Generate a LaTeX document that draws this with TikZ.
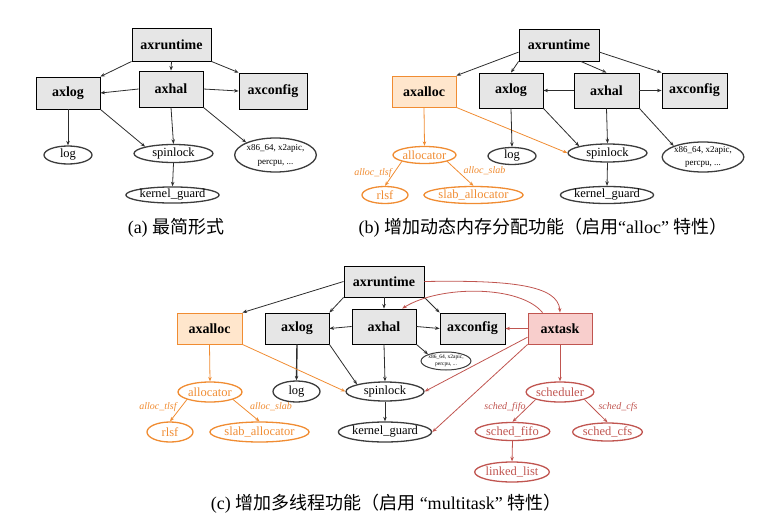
\documentclass[tikz,border=0pt]{standalone}
\usepackage{fontspec}
\setmainfont{Liberation Serif}
\newfontfamily\cjk{Noto Sans CJK SC}
\usetikzlibrary{shapes.geometric,arrows.meta,calc}
\definecolor{boxgray}{RGB}{230,230,230}
\definecolor{edgegray}{RGB}{45,45,45}
\definecolor{ellgray}{RGB}{60,60,60}
\definecolor{orng}{RGB}{240,140,50}
\definecolor{orngfill}{RGB}{255,230,204}
\definecolor{rd}{RGB}{192,85,80}
\definecolor{rdfill}{RGB}{248,206,204}
\begin{document}
\begin{tikzpicture}[x=1pt,y=-1pt,
 box/.style={draw=black,line width=0.9pt,fill=boxgray,font=\fontsize{14}{16}\selectfont\bfseries,inner sep=0pt,minimum width=64pt,minimum height=32pt},
 obox/.style={box,draw=orng,fill=orngfill},
 rbox/.style={box,draw=rd,fill=rdfill},
 ell/.style={ellipse,draw=ellgray,line width=1.3pt,inner sep=0pt,font=\fontsize{12.5}{14}\selectfont},
 oell/.style={ell,draw=orng,text=orng},
 rell/.style={ell,draw=rd,text=rd},
 arr/.style={-{Stealth[length=4.5pt,width=3.5pt]},draw=edgegray,line width=0.8pt},
 oarr/.style={arr,draw=orng},
 rarr/.style={arr,draw=rd},
 lab/.style={font=\fontsize{10}{12}\selectfont\itshape,inner sep=0pt},
 captext/.style={font=\fontsize{18}{20}\selectfont,inner sep=0pt}]
\useasboundingbox (0,0) rectangle (770,524);

% ---------------- panel (a)
\node[box,minimum width=79pt,minimum height=33pt] (a-rt) at (171.5,44.5) {axruntime};
\node[box,minimum height=32pt] (a-log) at (68,93) {axlog};
\node[box,minimum height=36pt] (a-hal) at (171,89) {axhal};
\node[box,minimum width=68pt,minimum height=36pt] (a-cfg) at (273,91) {axconfig};
\node[ell,minimum width=48pt,minimum height=18pt] (a-lg) at (68,155) {log};
\node[ell,minimum width=79pt,minimum height=18pt] (a-spin) at (173.5,153.5) {spinlock};
\node[ell,minimum width=79pt,minimum height=34pt,align=center,font=\fontsize{9}{14}\selectfont] (a-x86) at (275.5,155) {x86\_64, x2apic,\\percpu, ...};
\node[ell,minimum width=79pt,minimum height=16pt] (a-kg) at (172.5,195) {kernel\_guard};
\node[captext] (a-cap) at (176,228) {(a) {\cjk 最简形式}};

\draw[arr] (a-rt.south west) -- (a-log.north east);
\draw[arr] (a-rt.south) -- (a-hal.north);
\draw[arr] (a-rt.south east) -- (a-cfg.north west);
\draw[arr] (a-hal.west) -- (a-log.east);
\draw[arr] (a-hal.east) -- (a-cfg.west);
\draw[arr] (a-log.south) -- (a-lg.north);
\draw[arr] (a-log.south east) -- (a-spin.north west);
\draw[arr] (a-hal.south) -- (a-spin.north);
\draw[arr] (a-hal.south east) -- (a-x86.north west);
\draw[arr] (a-spin.south) -- (a-kg.north);

% ---------------- panel (b)
\node[box,minimum width=80pt,minimum height=32pt] (b-rt) at (559,45) {axruntime};
\node[obox,minimum height=31pt] (b-alloc) at (424,91.5) {axalloc};
\node[box,minimum height=35pt] (b-log) at (511,90.5) {axlog};
\node[box,minimum width=65pt,minimum height=35pt] (b-hal) at (606.5,90.5) {axhal};
\node[box,minimum width=65pt,minimum height=35pt] (b-cfg) at (694.5,90.5) {axconfig};
\node[oell,minimum width=63pt,minimum height=17pt] (b-allocator) at (424.5,155) {allocator};
\node[ell,minimum width=48pt,minimum height=17pt] (b-lg) at (512,156) {log};
\node[ell,minimum width=79pt,minimum height=18pt] (b-spin) at (607.5,153) {spinlock};
\node[ell,minimum width=78pt,minimum height=30pt,align=center,font=\fontsize{9}{13}\selectfont] (b-x86) at (703,157) {x86\_64, x2apic,\\percpu, ...};
\node[ell,minimum width=78pt,minimum height=17pt] (b-kg) at (607,195) {kernel\_guard};
\node[oell,minimum width=46pt,minimum height=17pt] (b-rlsf) at (385,195) {rlsf};
\node[oell,minimum width=83pt,minimum height=17pt] (b-slab) at (473.5,195) {slab\_allocator};
\node[lab,text=orng] (b-l1) at (373,173) {alloc\_tlsf};
\node[lab,text=orng] (b-l2) at (484.5,171) {alloc\_slab};
\node[captext] (b-cap) at (543,228) {(b) {\cjk 增加动态内存分配功能（启用}“alloc” {\cjk 特性）}};

\draw[arr] (b-rt.190) -- (b-alloc.north east);
\draw[arr] (b-rt.south west) -- (b-log.north);
\draw[arr] (b-rt.-37) -- (b-hal.north);
\draw[arr] (b-rt.-10) -- (b-cfg.north west);
\draw[arr] (b-hal.west) -- (b-log.east);
\draw[arr] (b-hal.east) -- (b-cfg.west);
\draw[oarr] (b-alloc.south) -- (b-allocator.north);
\draw[oarr] (b-alloc.south east) -- (b-spin.west);
\draw[arr] (b-log.south) -- (b-lg.north);
\draw[arr] (b-log.south east) -- (b-spin.north west);
\draw[arr] (b-hal.south) -- (b-spin.north);
\draw[arr] (b-hal.south east) -- (b-x86.north west);
\draw[arr] (b-spin.south) -- (b-kg.north);
\draw[oarr] (b-allocator.south west) -- (b-rlsf.north);
\draw[oarr] (b-allocator.south east) -- (b-slab.north);

% ---------------- panel (c)
\node[box,minimum width=80pt,minimum height=31pt] (c-rt) at (384,281.5) {axruntime};
\node[obox,minimum width=65pt,minimum height=31pt] (c-alloc) at (209.5,328.5) {axalloc};
\node[box,minimum height=31pt] (c-log) at (297,328.5) {axlog};
\node[box,minimum height=35pt] (c-hal) at (384,326.5) {axhal};
\node[box,minimum width=65pt,minimum height=31pt] (c-cfg) at (472.5,328.5) {axconfig};
\node[rbox,minimum height=31pt] (c-task) at (560,328.5) {axtask};
\node[oell,minimum width=64pt,minimum height=20pt] (c-allocator) at (210,392) {allocator};
\node[ell,minimum width=47pt,minimum height=21pt] (c-lg) at (296.5,391.5) {log};
\node[ell,minimum width=78pt,minimum height=19pt] (c-spin) at (385,391.5) {spinlock};
\node[ell,line width=1pt,minimum width=46pt,minimum height=18pt,align=center,font=\fontsize{5.5}{7.5}\selectfont] (c-x86) at (446,361) {x86\_64, x2apic,\\percpu, ...};
\node[ell,minimum width=78pt,minimum height=20pt] (c-kg) at (385,432) {kernel\_guard};
\node[oell,minimum width=46pt,minimum height=20pt] (c-rlsf) at (170,432) {rlsf};
\node[oell,minimum width=83pt,minimum height=20pt] (c-slab) at (259.5,432) {slab\_allocator};
\node[rell,minimum width=64pt,minimum height=20pt] (c-sched) at (560,392) {scheduler};
\node[rell,minimum width=61pt,minimum height=18pt] (c-fifo) at (512.5,431.5) {sched\_fifo};
\node[rell,minimum width=63pt,minimum height=18pt] (c-cfs) at (607.5,432) {sched\_cfs};
\node[rell,minimum width=62pt,minimum height=20pt] (c-ll) at (512,472) {linked\_list};
\node[lab,text=orng] (c-l1) at (158,407) {alloc\_tlsf};
\node[lab,text=orng] (c-l2) at (271,407) {alloc\_slab};
\node[lab,text=rd] (c-l3) at (505,407) {sched\_fifo};
\node[lab,text=rd] (c-l4) at (618,407) {sched\_cfs};
\node[captext] (c-cap) at (386,504) {(c) {\cjk 增加多线程功能（启用} “multitask” {\cjk 特性）}};

\draw[arr] (c-rt.west) -- (c-alloc.north east);
\draw[arr] (c-rt.south west) -- (c-log.north east);
\draw[arr] (c-rt.south) -- (c-hal.north);
\draw[arr] (c-rt.south east) -- (c-cfg.north west);
\draw[rarr] (c-rt.east) .. controls (510,280) and (558,285) .. (c-task.north);
\coordinate (c-tstart) at ($(c-task.north west)!0.23!(c-task.north east)$);
\coordinate (c-hend) at ($(c-hal.north)!0.56!(c-hal.north east)$);
\draw[rarr] (c-tstart) .. controls (520,285) and (440,285) .. (c-hend);
\draw[rarr] (c-task.west) -- (c-cfg.east);
\draw[arr] (c-hal.west) -- (c-log.east);
\draw[arr] (c-hal.east) -- (c-cfg.west);
\draw[arr] (c-hal.south east) -- (c-x86.north west);
\draw[arr] (c-hal.south) -- (c-spin.north);
\draw[arr,line width=1.4pt] (c-log.south) -- (c-lg.north);
\draw[arr] (c-log.south east) -- (c-spin.north west);
\draw[oarr] (c-alloc.south) -- (c-allocator.north);
\draw[oarr] (c-alloc.south east) -- (c-spin.west);
\draw[oarr] (c-allocator.south west) -- (c-rlsf.north);
\draw[oarr] (c-allocator.south east) -- (c-slab.north);
\draw[arr] (c-spin.south) -- (c-kg.north);
\draw[rarr] (c-task.195) -- (c-spin.east);
\draw[rarr] (c-task.south west) -- (c-kg.east);
\draw[rarr] (c-task.south) -- (c-sched.north);
\draw[rarr] (c-sched.south west) -- (c-fifo.north);
\draw[rarr] (c-sched.south east) -- (c-cfs.north);
\draw[rarr] (c-fifo.south) -- (c-ll.north);
\end{tikzpicture}
\end{document}
